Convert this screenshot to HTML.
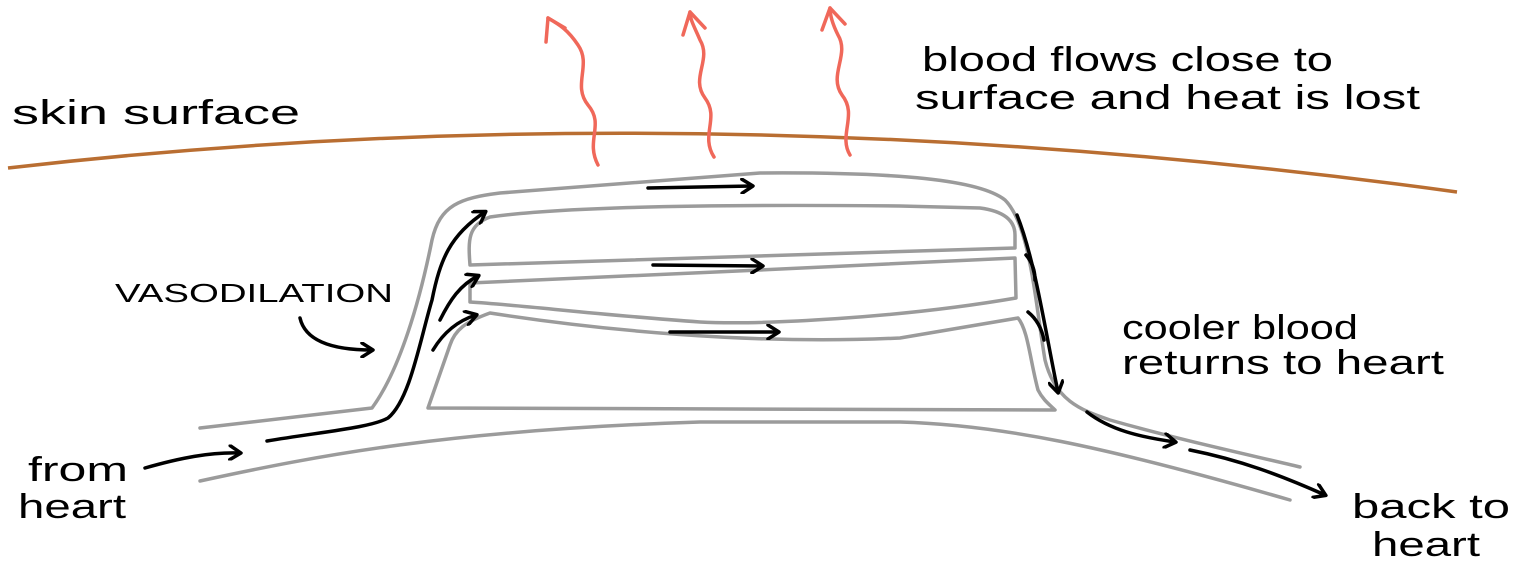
<!DOCTYPE html>
<html><head><style>html,body{margin:0;padding:0;background:#fff}svg{display:block}</style></head>
<body>
<svg width="1517" height="569" viewBox="0 0 1517 569" xmlns="http://www.w3.org/2000/svg">
<defs>
<marker id="a" markerWidth="16" markerHeight="16" refX="12" refY="8" orient="auto" markerUnits="userSpaceOnUse">
<path d="M2,1 L13,8 L2,15" fill="none" stroke="#000" stroke-width="3.5" stroke-linecap="round" stroke-linejoin="round"/></marker>
</defs>
<path d="M8,168 Q700,88 1457,192" fill="none" stroke="#b96e32" stroke-width="3.5"/>
<g fill="none" stroke="#f0685a" stroke-width="3.5" stroke-linecap="round">
<path d="M598,165 C585,140 605,125 588,105 C572,85 592,65 578,45 C568,30 560,25 548,18"/>
<path d="M548,18 L546,42 M548,18 L565,28"/>
<path d="M714,157 C700,135 720,118 705,98 C690,78 712,60 700,40 C695,28 690,20 690,12"/>
<path d="M690,12 L683,35 M690,12 L705,28"/>
<path d="M850,155 C838,135 858,115 842,95 C828,75 850,55 838,35 C833,25 830,15 830,8"/>
<path d="M830,8 L822,30 M830,8 L845,24"/>
</g>
<g fill="none" stroke="#9b9b9b" stroke-width="3.5" stroke-linejoin="round" stroke-linecap="round">
<path d="M200,428 L372,408 C400,370 420,300 432,240 C440,205 460,198 500,193 L760,173 C900,172 980,180 1005,200 C1030,225 1035,300 1045,360 C1055,400 1080,410 1110,420 C1180,440 1250,455 1300,467"/>
<path d="M200,481 C320,455 450,430 700,422 L900,422 C1000,425 1100,445 1290,500"/>
<path d="M470,265 C468,240 468,225 490,217 C560,207 700,204 900,206 L980,208 C1010,212 1015,225 1015,235 L1015,248 Z"/>
<path d="M470,283 L760,270 L1015,258 L1016,298 C900,318 760,325 700,322 C600,315 520,305 470,302 Z"/>
<path d="M428,408 L450,345 C455,330 465,322 490,313 C600,330 750,345 900,338 L1018,318 C1028,330 1030,360 1038,390 C1043,400 1050,405 1055,410 Z"/>
</g>
<g fill="none" stroke="#000" stroke-width="3.5" stroke-linecap="round">
<path d="M145,468 C180,458 210,452 240,453" marker-end="url(#a)"/>
<path d="M267,441 C320,432 370,428 388,418 C410,400 420,340 432,300 C440,260 450,235 485,212" marker-end="url(#a)"/>
<path d="M440,320 C450,300 460,285 478,276" marker-end="url(#a)"/>
<path d="M433,350 C445,330 460,320 476,315" marker-end="url(#a)"/>
<path d="M648,188 L752,186" marker-end="url(#a)"/>
<path d="M653,265 L762,266" marker-end="url(#a)"/>
<path d="M670,332 L778,332" marker-end="url(#a)"/>
<path d="M1017,215 C1035,260 1045,330 1058,392" marker-end="url(#a)"/>
<path d="M1026,255 C1032,262 1035,270 1035,280 M1028,312 C1038,320 1042,330 1044,340"/>
<path d="M1087,412 C1110,430 1140,437 1175,442" marker-end="url(#a)"/>
<path d="M1190,450 C1240,460 1280,475 1325,495" marker-end="url(#a)"/>
<path d="M300,318 C305,340 330,350 372,350" marker-end="url(#a)"/>
</g>
<g font-family="Liberation Sans, sans-serif" font-size="34" fill="#000">
<text x="12" y="124" textLength="288" lengthAdjust="spacingAndGlyphs">skin surface</text>
<text x="922" y="71" textLength="411" lengthAdjust="spacingAndGlyphs">blood flows close to</text>
<text x="915" y="109" textLength="505" lengthAdjust="spacingAndGlyphs">surface and heat is lost</text>
<text x="1122" y="339" textLength="236" lengthAdjust="spacingAndGlyphs">cooler blood</text>
<text x="1122" y="374" textLength="322" lengthAdjust="spacingAndGlyphs">returns to heart</text>
<text x="28" y="481" textLength="100" lengthAdjust="spacingAndGlyphs">from</text>
<text x="18" y="518" textLength="108" lengthAdjust="spacingAndGlyphs">heart</text>
<text x="1352" y="518" textLength="158" lengthAdjust="spacingAndGlyphs">back to</text>
<text x="1372" y="556" textLength="108" lengthAdjust="spacingAndGlyphs">heart</text>
<text x="115" y="302" font-size="26" textLength="278" lengthAdjust="spacingAndGlyphs">VASODILATION</text>
</g>
</svg>
</body></html>
